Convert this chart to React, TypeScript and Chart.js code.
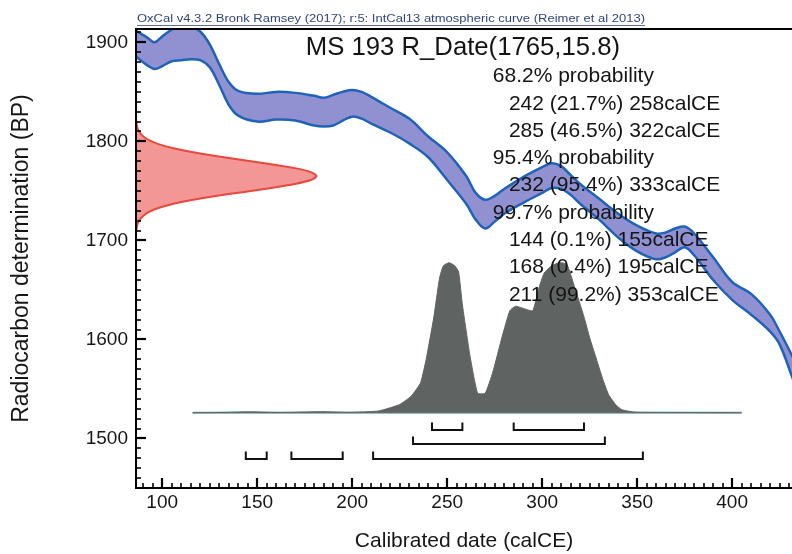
import React, { useEffect, useRef } from 'react';
import { Chart, registerables } from 'chart.js';

Chart.register(...registerables);

// ---------- axes ----------
const X_MIN = 86.2;
const X_MAX = 431.5;
const Y_MIN = 1450;
const Y_MAX = 1913.5;
const xTickValues = [100, 150, 200, 250, 300, 350, 400];
const yTickValues = [1500, 1600, 1700, 1800, 1900];

// ---------- IntCal13 calibration curve (upper / lower 1-sigma envelope) ----------
const curveYears = [86, 92, 96, 100, 105, 110, 115, 120, 125, 130, 135, 140, 150, 160, 170, 180, 185, 190, 195, 200, 205, 210, 220, 230, 240, 250, 260, 265, 270, 275, 280, 290, 300, 305, 310, 315, 320, 330, 340, 350, 360, 365, 370, 375, 380, 390, 400, 410, 420, 425, 432];
const curveUpper = [1912, 1905, 1900, 1906, 1913, 1919, 1916, 1911, 1898, 1878, 1860, 1851, 1848, 1850, 1849, 1846, 1844, 1847, 1850, 1852, 1850, 1845, 1834, 1823, 1805, 1789, 1765, 1748, 1741, 1745, 1752, 1764, 1774, 1778, 1775, 1766, 1757, 1742, 1727, 1715, 1707, 1708, 1712, 1714, 1707, 1683, 1658, 1646, 1625, 1608, 1582];
const curveLower = [1886, 1877, 1873, 1876, 1881, 1882, 1883, 1882, 1875, 1857, 1837, 1826, 1820, 1822, 1821, 1816, 1815, 1816, 1821, 1825, 1823, 1818, 1809, 1798, 1784, 1761, 1737, 1721, 1712, 1719, 1727, 1738, 1748, 1753, 1752, 1746, 1737, 1721, 1703, 1689, 1681, 1683, 1688, 1693, 1685, 1660, 1640, 1625, 1608, 1595, 1560];

// ---------- radiocarbon measurement (BP) distribution, width in years from axis ----------
const redBP = [1821, 1817, 1813, 1809, 1805, 1801, 1797, 1793, 1789, 1785, 1781, 1777, 1773, 1769, 1765, 1761, 1757, 1753, 1749, 1745, 1741, 1737, 1733, 1729, 1725, 1721, 1717, 1713, 1709];
const redWidth = [0.2, 0.4, 0.9, 2.0, 3.9, 7.1, 12.2, 19.8, 30.0, 42.7, 56.9, 71.2, 83.6, 92.0, 95.0, 92.0, 83.6, 71.2, 56.9, 42.7, 30.0, 19.8, 12.2, 7.1, 3.9, 2.0, 0.9, 0.4, 0.2];

// ---------- calibrated probability (relative) ----------
const grayYears = [116, 130, 146, 162, 184, 199, 214, 225, 231, 236, 239, 243, 246, 248, 251, 254, 256, 258, 262, 266, 270, 274, 279, 283, 286, 289, 295, 298, 301, 305, 309, 313, 317, 322, 325, 328, 332, 335, 339, 342, 349, 372, 388, 405];
const grayProb = [0, 0.002, 0.006, 0.002, 0.007, 0.003, 0.012, 0.055, 0.11, 0.2, 0.36, 0.64, 0.9, 0.98, 1.0, 0.98, 0.94, 0.72, 0.38, 0.13, 0.13, 0.27, 0.51, 0.68, 0.71, 0.7, 0.68, 0.82, 0.93, 0.98, 1.0, 0.99, 0.84, 0.64, 0.5, 0.38, 0.22, 0.12, 0.05, 0.02, 0.004, 0.002, 0.001, 0];

// ---------- calibrated ranges ----------
const range68 = [[242, 258], [285, 322]];
const range95 = [[232, 333]];
const range99 = [[144, 155], [168, 195], [211, 353]];

// ---------- texts ----------
const caption = 'OxCal v4.3.2 Bronk Ramsey (2017); r:5: IntCal13 atmospheric curve (Reimer et al 2013)';
const sampleTitle = 'MS 193 R_Date(1765,15.8)';
const resultLines = [
  '68.2% probability',
  '242 (21.7%) 258calCE',
  '285 (46.5%) 322calCE',
  '95.4% probability',
  '232 (95.4%) 333calCE',
  '99.7% probability',
  '144 (0.1%) 155calCE',
  '168 (0.4%) 195calCE',
  '211 (99.2%) 353calCE',
];
const resultIndent = [false, true, true, false, true, false, true, true, true];

// ---------- layout / style constants ----------
const FONT = '"Liberation Sans", Arial, sans-serif';
const BLUE_LINE = '#1f63b8';
const BLUE_FILL = '#9191d2';
const RED_LINE = '#e8493c';
const RED_FILL = '#f29696';
const GRAY_FILL = '#5f6361';
const BASE_LINE = '#6fa3ad';
const GRAY_BASE = 1526;
const GRAY_HEIGHT = 151.5;
const ROW_BP = [1508.6, 1494.5, 1479.3];
const BRACKET_H = 7.5;

function bracketPoints(ranges: number[][], row: number) {
  const bot = ROW_BP[row];
  const top = bot + BRACKET_H;
  const pts: any[] = [];
  ranges.forEach(([a, b]) => {
    pts.push({ x: a, y: top }, { x: a, y: bot }, { x: b, y: bot }, { x: b, y: top });
    pts.push({ x: b, y: null });
  });
  return pts;
}

const overlayPlugin = {
  id: 'overlay',
  afterDatasetsDraw(chart: any) {
    const { ctx, chartArea: a, scales } = chart;
    const xs = scales.x;
    const ys = scales.y;
    ctx.save();
    // frame
    ctx.strokeStyle = '#000';
    ctx.lineWidth = 2;
    ctx.beginPath();
    ctx.moveTo(a.right + 2, a.top);
    ctx.lineTo(a.left, a.top);
    ctx.lineTo(a.left, a.bottom);
    ctx.lineTo(a.right + 2, a.bottom);
    ctx.stroke();
    // x ticks (inward)
    for (let v = 90; v <= 430; v += 5) {
      const px = Math.round(xs.getPixelForValue(v));
      const major = v % 50 === 0;
      ctx.lineWidth = major ? 2.2 : 1.6;
      ctx.beginPath();
      ctx.moveTo(px, a.bottom);
      ctx.lineTo(px, a.bottom - (major ? 10 : 5));
      ctx.stroke();
    }
    // y ticks (inward)
    for (let v = 1460; v <= 1910; v += 10) {
      const py = Math.round(ys.getPixelForValue(v));
      const major = v % 100 === 0;
      ctx.lineWidth = major ? 2.2 : 1.6;
      ctx.beginPath();
      ctx.moveTo(a.left, py);
      ctx.lineTo(a.left + (major ? 10 : 5), py);
      ctx.stroke();
    }
    // texts
    ctx.fillStyle = '#141414';
    ctx.textBaseline = 'middle';
    ctx.textAlign = 'left';
    ctx.font = `25.7px ${FONT}`;
    ctx.fillText(sampleTitle, xs.getPixelForValue(175.6), ys.getPixelForValue(1894));
    ctx.font = `21px ${FONT}`;
    const y0 = ys.getPixelForValue(1865.6);
    resultLines.forEach((t, i) => {
      const x = xs.getPixelForValue(resultIndent[i] ? 282.5 : 274);
      ctx.fillText(t, x, y0 + i * 27.3);
    });
    // caption above frame
    ctx.font = `10px ${FONT}`;
    ctx.fillStyle = '#34457a';
    const w = ctx.measureText(caption).width;
    const target = 508;
    ctx.save();
    ctx.translate(a.left + 1, a.top - 10);
    ctx.scale(target / w, 1);
    ctx.fillText(caption, 0, 0);
    ctx.restore();
    ctx.strokeStyle = '#5a6fa8';
    ctx.lineWidth = 1;
    ctx.beginPath();
    ctx.moveTo(a.left + 1, a.top - 3.5);
    ctx.lineTo(a.left + 1 + target, a.top - 3.5);
    ctx.stroke();
    ctx.restore();
  },
};

export default function App() {
  const ref = useRef<HTMLCanvasElement>(null);
  useEffect(() => {
    const canvas = ref.current;
    if (!canvas) return;
    const line = (data: any[], extra: any) => ({
      type: 'line',
      data,
      pointRadius: 0,
      pointHoverRadius: 0,
      fill: false,
      spanGaps: false,
      ...extra,
    });
    const datasets: any[] = [
      // brackets (top)
      line(bracketPoints(range68, 0), { borderColor: '#111', borderWidth: 2, tension: 0, borderJoinStyle: 'miter' }),
      line(bracketPoints(range95, 1), { borderColor: '#111', borderWidth: 2, tension: 0, borderJoinStyle: 'miter' }),
      line(bracketPoints(range99, 2), { borderColor: '#111', borderWidth: 2, tension: 0, borderJoinStyle: 'miter' }),
      // red measurement
      line(redBP.map((y, i) => ({ x: X_MIN + redWidth[i], y })), {
        borderColor: RED_LINE, borderWidth: 2, backgroundColor: RED_FILL, fill: 'shape', tension: 0.3,
      }),
      // calibration curve
      line(curveYears.map((x, i) => ({ x, y: curveUpper[i] })), {
        borderColor: BLUE_LINE, borderWidth: 2.5, tension: 0.35,
      }),
      line(curveYears.map((x, i) => ({ x, y: curveLower[i] })), {
        borderColor: BLUE_LINE, borderWidth: 2.5, tension: 0.35, fill: '-1', backgroundColor: BLUE_FILL,
      }),
      // calibrated distribution
      line(grayYears.map((x, i) => ({ x, y: GRAY_BASE + grayProb[i] * GRAY_HEIGHT })), {
        borderColor: GRAY_FILL, borderWidth: 1, backgroundColor: GRAY_FILL, fill: { value: GRAY_BASE }, tension: 0.15,
      }),
      line([{ x: grayYears[0], y: GRAY_BASE }, { x: grayYears[grayYears.length - 1], y: GRAY_BASE }], {
        borderColor: BASE_LINE, borderWidth: 2,
      }),
    ];
    const chart = new Chart(canvas, {
      type: 'line',
      data: { datasets },
      options: {
        responsive: false,
        animation: false,
        events: [],
        layout: { padding: { top: 29, left: 0, right: 0, bottom: 0 } },
        plugins: { legend: { display: false }, tooltip: { enabled: false }, title: { display: false } },
        scales: {
          x: {
            type: 'linear',
            min: X_MIN,
            max: X_MAX,
            afterBuildTicks: (s: any) => { s.ticks = xTickValues.map((v) => ({ value: v })); },
            afterFit: (s: any) => { s.height = 66; },
            grid: { display: false, drawTicks: false },
            border: { display: false },
            ticks: { font: { family: FONT, size: 19 }, color: '#161616', padding: 3, maxRotation: 0, autoSkip: false, callback: (v: any) => String(v) },
            title: { display: true, text: 'Calibrated date (calCE)', font: { family: FONT, size: 21 }, color: '#161616', padding: { top: 0, bottom: 0 } },
          },
          y: {
            type: 'linear',
            min: Y_MIN,
            max: Y_MAX,
            afterBuildTicks: (s: any) => { s.ticks = yTickValues.map((v) => ({ value: v })); },
            afterFit: (s: any) => { s.width = 136; },
            grid: { display: false, drawTicks: false },
            border: { display: false },
            ticks: { font: { family: FONT, size: 19 }, color: '#161616', padding: 8, autoSkip: false, callback: (v: any) => String(v) },
            title: { display: true, text: 'Radiocarbon determination (BP)', font: { family: FONT, size: 23 }, color: '#161616', padding: { top: 8, bottom: 0 } },
          },
        },
      },
      plugins: [overlayPlugin],
    } as any);
    return () => chart.destroy();
  }, []);
  return (
    <div style={{ position: 'absolute', left: 0, top: 0, width: 792, height: 554, background: '#fff' }}>
      <canvas ref={ref} width={792} height={554} style={{ display: 'block', width: 792, height: 554 }} />
    </div>
  );
}
